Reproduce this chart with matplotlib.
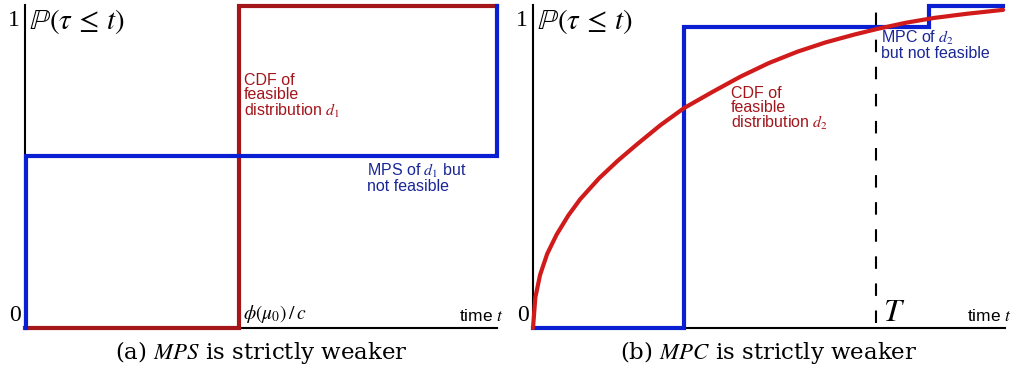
import numpy as np
import matplotlib
matplotlib.use("Agg")
import matplotlib.pyplot as plt

plt.rcParams['mathtext.fontset'] = 'stix'

# panel (a): step CDFs, time as fraction of axis length
a_red_t = [0.0, 0.453, 0.453, 1.0]
a_red_p = [0.0, 0.0, 1.0, 1.0]
a_blue_t = [0.002, 0.002, 1.0, 1.0]
a_blue_p = [0.0, 0.534, 0.534, 1.0]

# panel (b)
b_blue_t = [0.0, 0.32, 0.32, 0.839, 0.839, 0.996]
b_blue_p = [0.0, 0.0, 0.935, 0.935, 1.0, 1.0]
b_red_t = [0.0, 0.005, 0.015, 0.03, 0.05, 0.075, 0.10, 0.14, 0.18, 0.22, 0.27,
           0.32, 0.38, 0.44, 0.50, 0.56, 0.62, 0.68, 0.73, 0.79, 0.85, 0.92, 0.996]
b_red_p = [0.0, 0.095, 0.165, 0.23, 0.29, 0.35, 0.40, 0.465, 0.52, 0.57, 0.63,
           0.683, 0.733, 0.781, 0.823, 0.858, 0.887, 0.911, 0.929, 0.948, 0.963,
           0.976, 0.988]
T_val = 0.727

captions = [r"(a) $\mathit{MPS}$ is strictly weaker",
            r"(b) $\mathit{MPC}$ is strictly weaker"]

RED_A = "#a4161a"
RED_B = "#d11b1b"
BLUE = "#0a1ed2"
RED_TXT = "#a3161c"
BLUE_TXT = "#1a2696"

W, H = 1013, 376
fig = plt.figure(figsize=(W / 100, H / 100), dpi=100)


def make_axes(x0, x1, ytop=6, ybot=328):
    ax = fig.add_axes([x0 / W, (H - ybot) / H, (x1 - x0) / W, (ybot - ytop) / H])
    ax.set_xlim(0, 1)
    ax.set_ylim(0, 1)
    ax.axis('off')
    # axes drawn by hand
    ax.plot([0, 0], [0, 1.004], color="black", lw=1.5, clip_on=False, zorder=1)
    ax.plot([0, 1], [0, 0], color="black", lw=1.5, clip_on=False, zorder=1)
    return ax


def common_labels(ax, cap):
    ax.text(-0.01, 0.955, "1", ha="right", va="center", fontsize=17,
            family="Liberation Serif")
    ax.text(0.008, 0.952, r"$\mathbb{P}(\tau\,\leq\,t)$", ha="left", va="center",
            fontsize=21)
    ax.text(-0.008, 0.04, "0", ha="right", va="center", fontsize=17,
            family="Liberation Serif")
    ax.text(1.015, 0.037, "time $t$", ha="right", va="center", fontsize=12.5,
            family="Liberation Sans")
    ax.text(0.5, -0.075, cap, ha="center", va="center", fontsize=16.5,
            family="DejaVu Serif", transform=ax.transAxes)


# (a)
ax1 = make_axes(25, 497)
ax1.plot(a_red_t, a_red_p, color=RED_A, lw=3, clip_on=False, zorder=2,
         solid_joinstyle="miter")
ax1.plot(a_blue_t, a_blue_p, color=BLUE, lw=3, clip_on=False, zorder=3,
         solid_joinstyle="miter")
common_labels(ax1, captions[0])
ax1.text(0.463, 0.72, "CDF of\nfeasible\ndistribution $d_1$", ha="left", va="center",
         fontsize=11.5, color=RED_TXT, family="Liberation Sans", linespacing=0.95)
ax1.text(0.725, 0.467, "MPS of $d_1$ but\nnot feasible", ha="left", va="center",
         fontsize=11.5, color=BLUE_TXT, family="Liberation Sans", linespacing=0.9)
ax1.text(0.461, 0.045, r"$\phi(\mu_0)\,/\,c$", ha="left", va="center", fontsize=14)

# (b)
ax2 = make_axes(533, 1005)
ax2.plot([T_val, T_val], [0.015, 1.0], color="black", lw=1.5,
         dashes=(6, 7), zorder=1)
ax2.plot(b_blue_t, b_blue_p, color=BLUE, lw=3, clip_on=False, zorder=2,
         solid_joinstyle="miter")
ax2.plot(b_red_t, b_red_p, color=RED_B, lw=3, clip_on=False, zorder=3,
         solid_capstyle="round")
common_labels(ax2, captions[1])
ax2.text(0.42, 0.68, "CDF of\nfeasible\ndistribution $d_2$", ha="left", va="center",
         fontsize=11.5, color=RED_TXT, family="Liberation Sans", linespacing=0.95)
ax2.text(0.738, 0.88, "MPC of $d_2$\nbut not feasible", ha="left", va="center",
         fontsize=11.5, color=BLUE_TXT, family="Liberation Sans", linespacing=0.9)
ax2.text(0.742, 0.047, "$T$", ha="left", va="center", fontsize=23)

fig.savefig("out.png", dpi=100)
